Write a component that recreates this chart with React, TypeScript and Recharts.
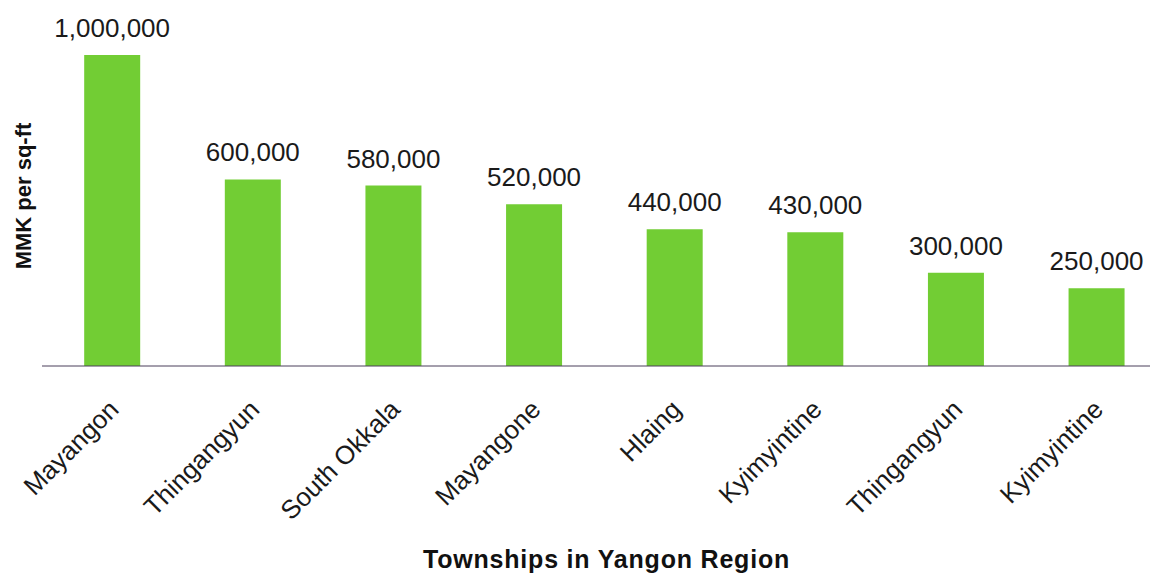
import React from "react";
import { BarChart, Bar, XAxis, YAxis, LabelList } from "recharts";

const townships = ["Mayangon", "Thingangyun", "South Okkala", "Mayangone", "Hlaing", "Kyimyintine", "Thingangyun", "Kyimyintine"];
const pricePerSqFt = [1000000, 600000, 580000, 520000, 440000, 430000, 300000, 250000];
const xTitle = "Townships in Yangon Region";
const yTitle = "MMK per sq-ft";

const data = townships.map((t, i) => ({ idx: i, name: t, value: pricePerSqFt[i] }));

const FONT = "Arial, 'Liberation Sans', Helvetica, sans-serif";

const fmt = (v: number) => v.toLocaleString("en-US");

const XTick = (props: any) => {
  const { x, y, payload } = props;
  const ax = x + 8;
  const ay = y + 37;
  return (
    <text
      x={ax}
      y={ay}
      textAnchor="end"
      transform={`rotate(-45 ${ax} ${ay})`}
      fontSize={26}
      fontFamily={FONT}
      fill="#1a1a1a"
    >
      {townships[payload.value]}
    </text>
  );
};

const XTitle = (props: any) => {
  const { viewBox } = props;
  const cx = viewBox.x + viewBox.width / 2 + 2;
  return (
    <text x={cx} y={568} textAnchor="middle" fontSize={25} fontWeight="bold" letterSpacing={0.8} fontFamily={FONT} fill="#111">
      {xTitle}
    </text>
  );
};

const YTitle = () => {
  const cx = 31;
  const cy = 196;
  return (
    <text x={cx} y={cy} textAnchor="middle" transform={`rotate(-90 ${cx} ${cy})`} fontSize={22} fontWeight="bold" fontFamily={FONT} fill="#111">
      {yTitle}
    </text>
  );
};

export default function App() {
  return (
    <div style={{ position: "absolute", left: 0, top: 0, width: 1150, height: 574, overflow: "hidden", background: "#fff" }}>
      <BarChart
        width={1170}
        height={574}
        data={data}
        margin={{ top: 55, right: 3, bottom: 8, left: 0 }}
        barCategoryGap="30%"
      >
        <XAxis
          dataKey="idx"
          type="category"
          height={200}
          tickLine={false}
          axisLine={{ stroke: "#4a3f5a", strokeWidth: 1 }}
          tick={<XTick />}
          interval={0}
          label={<XTitle />}
        />
        <YAxis
          width={42}
          domain={[0, 1000000]}
          tick={false}
          tickLine={false}
          axisLine={false}
          label={<YTitle />}
        />
        <Bar dataKey="value" fill="#72cd34" isAnimationActive={false}>
          <LabelList
            dataKey="value"
            position="top"
            offset={18}
            formatter={(v: any) => fmt(Number(v))}
            style={{ fontSize: 26, fontFamily: FONT, fill: "#1a1a1a" }}
          />
        </Bar>
      </BarChart>
    </div>
  );
}
